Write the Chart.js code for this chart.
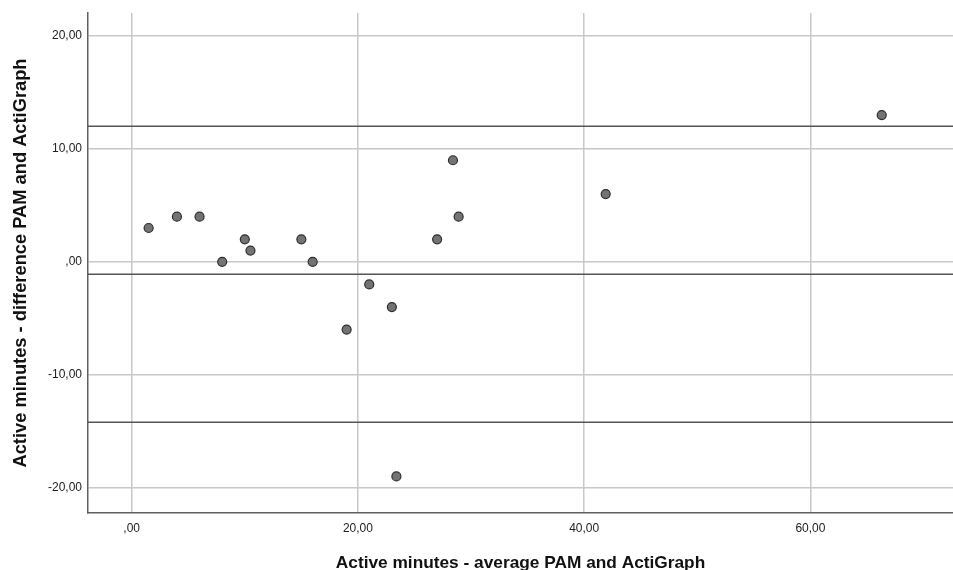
<!DOCTYPE html>
<html>
<head>
<meta charset="utf-8">
<script src="https://cdn.jsdelivr.net/npm/chart.js@4/dist/chart.umd.min.js"></script>
<style>
  html, body { margin: 0; padding: 0; background: #ffffff; }
  #wrap { width: 953px; height: 570px; position: relative; }
</style>
</head>
<body>
<div id="wrap"><canvas id="c" width="953" height="570"></canvas></div>
<script>
// ---- data ----
const averageMinutes = [1.5, 4, 6, 8, 10, 10.5, 15, 16, 19, 21, 23, 23.4, 27, 28.4, 28.9, 41.9, 66.3];
const differenceMinutes = [3, 4, 4, 0, 2, 1, 2, 0, -6, -2, -4, -19, 2, 9, 4, 6, 13];
const referenceLines = [12.0, -1.1, -14.2]; // upper LoA, mean difference, lower LoA
const xTicks = [0, 20, 40, 60];
const yTicks = [-20, -10, 0, 10, 20];
const xRange = [-3.86, 72.6];
const yRange = [-22.24, 22.04];
const xTitle = 'Active minutes - average PAM and ActiGraph';
const yTitle = 'Active minutes - difference PAM and ActiGraph';

const fmt = v => {
  const s = Math.abs(v).toFixed(2).replace('.', ',');
  const body = s.startsWith('0,') ? s.slice(1) : s;
  return (v < 0 ? '-' : '') + body;
};

const points = averageMinutes.map((x, i) => ({ x: x, y: differenceMinutes[i] }));
const lineSets = referenceLines.map(v => ({
  type: 'line',
  data: [{ x: xRange[0], y: v }, { x: xRange[1], y: v }],
  borderColor: '#555555',
  borderWidth: 1.5,
  pointRadius: 0,
  fill: false,
  order: 2
}));

const FONT = '"Liberation Sans", Arial, sans-serif';

new Chart(document.getElementById('c'), {
  type: 'scatter',
  data: {
    datasets: [{
      data: points,
      backgroundColor: '#737373',
      borderColor: '#2e2e2e',
      borderWidth: 1.2,
      pointRadius: 4.5,
      order: 0
    }].concat(lineSets)
  },
  options: {
    responsive: false,
    animation: false,
    devicePixelRatio: 1,
    layout: { autoPadding: false, padding: { top: 13, left: 0, right: 0, bottom: 0 } },
    plugins: { legend: { display: false }, tooltip: { enabled: false } },
    scales: {
      x: {
        type: 'linear',
        min: xRange[0],
        max: xRange[1],
        afterBuildTicks: s => { s.ticks = xTicks.map(v => ({ value: v })); },
        afterFit: s => { s.height = 57; s.paddingLeft = 0; s.paddingRight = 0; },
        grid: { color: '#c8c8c8', lineWidth: 1.5, drawTicks: false },
        border: { display: true, color: '#606060', width: 1.5 },
        ticks: {
          callback: v => fmt(v),
          color: '#222222',
          font: { family: FONT, size: 12 },
          padding: 8,
          maxRotation: 0
        },
        title: {
          display: true,
          text: xTitle,
          color: '#111111',
          font: { family: FONT, size: 17.3, weight: 'bold', lineHeight: 0.8 },
          padding: 0
        }
      },
      y: {
        type: 'linear',
        min: yRange[0],
        max: yRange[1],
        afterBuildTicks: s => { s.ticks = yTicks.map(v => ({ value: v })); },
        afterFit: s => { s.width = 88; s.paddingTop = 0; s.paddingBottom = 0; },
        grid: { color: '#c8c8c8', lineWidth: 1.5, drawTicks: false },
        border: { display: true, color: '#606060', width: 1.5 },
        ticks: {
          callback: v => fmt(v),
          color: '#222222',
          font: { family: FONT, size: 12 },
          padding: 6
        },
        title: {
          display: true,
          text: yTitle,
          color: '#111111',
          font: { family: FONT, size: 18.3, weight: 'bold', lineHeight: 1.2 },
          padding: { top: 9.7, bottom: 0 }
        }
      }
    }
  }
});
</script>
</body>
</html>
